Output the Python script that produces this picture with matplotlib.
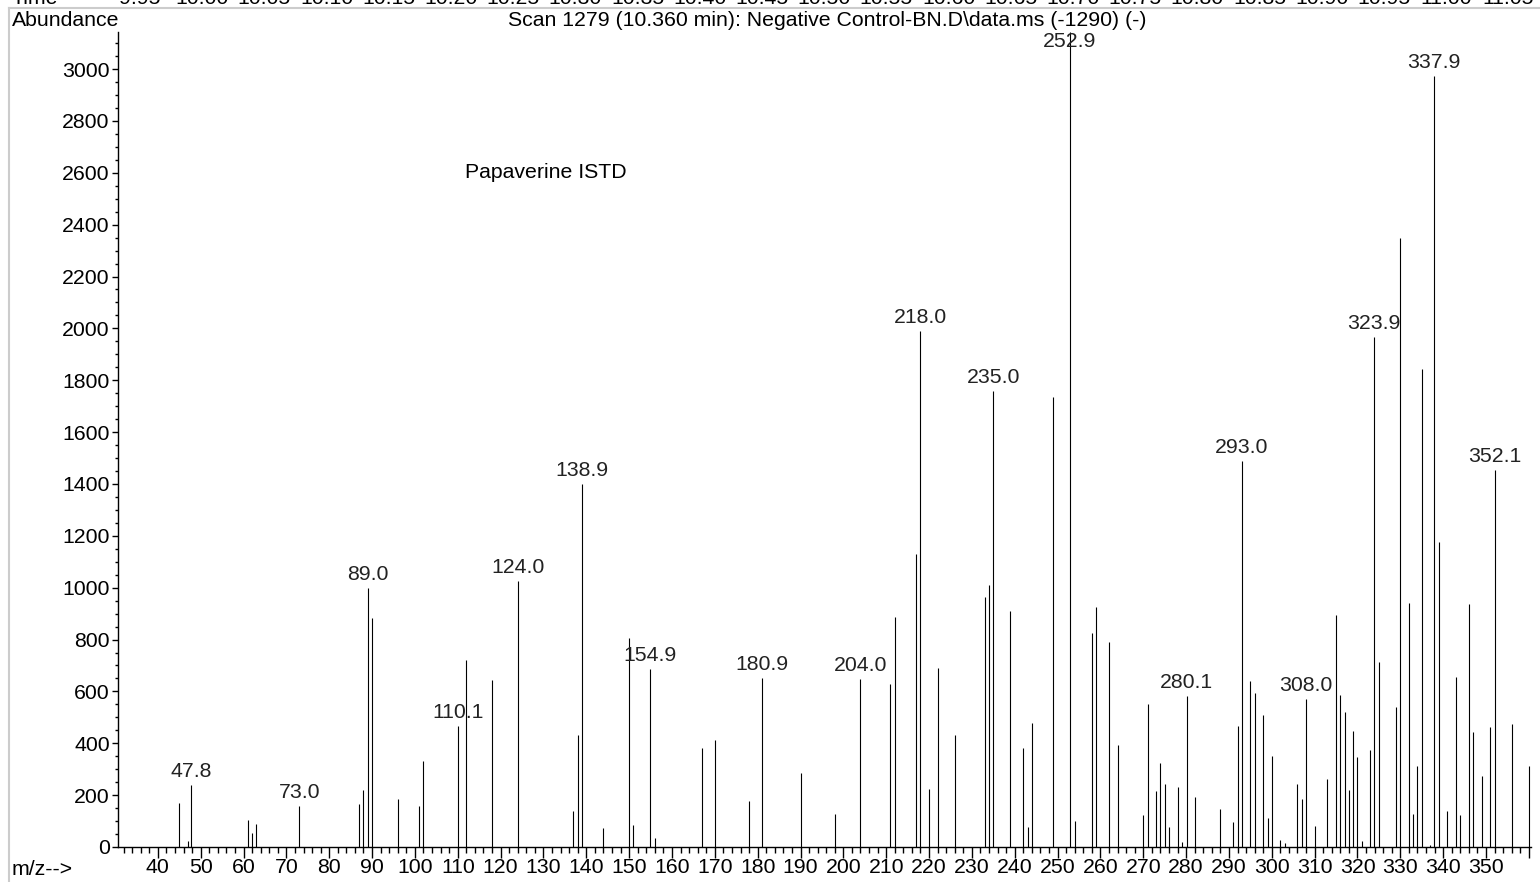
import numpy as np
import matplotlib.pyplot as plt
from matplotlib.lines import Line2D
from matplotlib.ticker import MultipleLocator, FixedLocator

plt.rcParams['font.family'] = ['Liberation Sans', 'DejaVu Sans']

# spectrum (m/z, abundance)
mz = [45, 47, 47.8, 61, 62, 63, 73.0, 87, 88, 89.0, 90, 96, 101, 102, 110.1, 112,
      118, 124.0, 137, 138, 138.9, 144, 150, 151, 154.9, 156, 167, 170, 178, 180.9,
      190, 198, 204.0, 211, 212, 217, 218.0, 220, 222, 226, 233, 234, 235.0, 239,
      242, 243, 244, 249, 252.9, 254, 258, 259, 262, 264, 270, 271, 273, 274, 275,
      276, 278, 279, 280.1, 282, 288, 291, 292, 293.0, 295, 296, 298, 299, 300,
      302, 303, 306, 307, 308.0, 310, 313, 315, 316, 317, 318, 319, 320, 321, 323,
      323.9, 325, 329, 330, 332, 333, 334, 335, 337, 337.9, 339, 341, 343, 344,
      346, 347, 349, 351, 352.1, 356, 360]
abundance = [170, 22, 238, 103, 55, 88, 157, 164, 221, 997, 885, 184, 157, 333, 467, 721,
             645, 1027, 138, 431, 1400, 75, 807, 84, 687, 34, 382, 414, 178, 651,
             284, 129, 647, 630, 888, 1129, 1988, 222, 691, 431, 963, 1010, 1759, 910,
             381, 77, 480, 1735, 3143, 99, 825, 924, 790, 394, 125, 550, 215, 325, 242,
             77, 233, 18, 582, 192, 148, 95, 468, 1489, 640, 593, 508, 112, 352,
             26, 17, 242, 187, 572, 82, 262, 893, 587, 519, 219, 446, 346, 23, 373,
             1966, 715, 539, 2350, 940, 129, 313, 1845, 8, 2972, 1176, 138, 654, 123,
             939, 442, 275, 464, 1454, 475, 314]
labelled = [47.8, 73.0, 89.0, 110.1, 124.0, 138.9, 154.9, 180.9, 204.0, 218.0,
            235.0, 252.9, 280.1, 293.0, 308.0, 323.9, 337.9, 352.1]

times = ['9.95', '10.00', '10.05', '10.10', '10.15', '10.20', '10.25', '10.30',
         '10.35', '10.40', '10.45', '10.50', '10.55', '10.60', '10.65', '10.70',
         '10.75', '10.80', '10.85', '10.90', '10.95', '11.00', '11.05']

W, H = 1540, 882
fs = 15.3
fig = plt.figure(figsize=(W / 100, H / 100), dpi=100)
ax = fig.add_axes([118 / W, 35 / H, (1531 - 118) / W, (847 - 32) / H])

ax.vlines(mz, 0, abundance, color='black', lw=0.8)

ymax = 3143
ax.set_xlim(30.7, 360.5)
ax.set_ylim(0, ymax)

for x, y in zip(mz, abundance):
    if x in labelled:
        ax.annotate(f'{x:.1f}', (x, min(y, 3054)), xytext=(0, 3),
                    textcoords='offset points', ha='center', va='bottom',
                    fontsize=fs, color='#222222')

fig.text(465 / W, 1 - 172 / H, 'Papaverine ISTD', fontsize=fs, ha='left', va='center')

for s in ['top', 'right']:
    ax.spines[s].set_visible(False)
for s in ['left', 'bottom']:
    ax.spines[s].set_linewidth(1.0)

ax.xaxis.set_major_locator(FixedLocator(np.arange(40, 361, 10)))
ax.set_xticklabels([str(v) if v <= 350 else '' for v in range(40, 361, 10)])
ax.xaxis.set_minor_locator(MultipleLocator(2))
ax.yaxis.set_major_locator(MultipleLocator(200))
ax.yaxis.set_minor_locator(MultipleLocator(50))
ax.tick_params(axis='x', which='major', length=8, width=1, pad=0, labelsize=fs)
ax.tick_params(axis='x', which='minor', length=4.3, width=1)
ax.tick_params(axis='y', which='major', length=4, width=1, pad=2, labelsize=fs)
ax.tick_params(axis='y', which='minor', length=2, width=1)

fig.text(12 / W, 1 - 26 / H, 'Abundance', fontsize=fs, va='baseline')
fig.text(827 / W, 1 - 26 / H, r'Scan 1279 (10.360 min): Negative Control-BN.D\data.ms (-1290) (-)',
         fontsize=fs, ha='center', va='baseline')
fig.text(12 / W, 7 / H, 'm/z-->', fontsize=fs, va='baseline')

# clipped retention-time strip at the very top, as in the reference
fig.text(12 / W, 1 - 4 / H, 'Time', fontsize=fs, va='baseline')
for i, t in enumerate(times):
    fig.text((140 + i * 62.2) / W, 1 - 4 / H, t, fontsize=fs, ha='center', va='baseline')
fig.add_artist(Line2D([9 / W, 1], [1 - 7.5 / H] * 2, transform=fig.transFigure,
                      color='#cccccc', lw=1.5))
fig.add_artist(Line2D([9 / W] * 2, [0, 1 - 7.5 / H], transform=fig.transFigure,
                      color='#cccccc', lw=1.5))

fig.savefig('out.png', dpi=100)
